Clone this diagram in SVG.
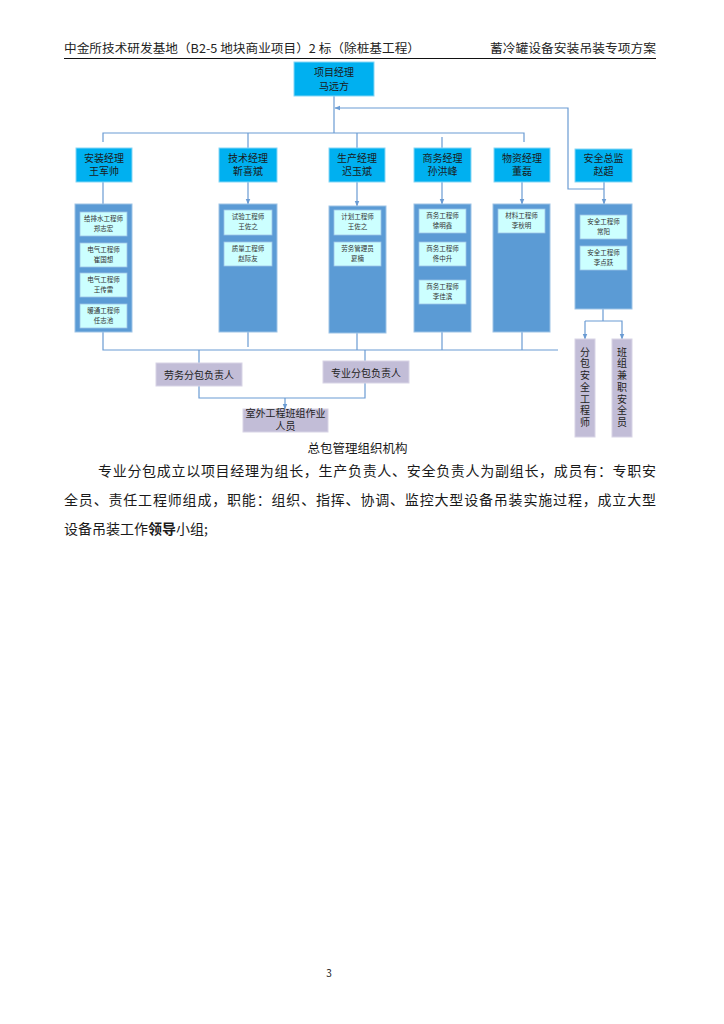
<svg xmlns="http://www.w3.org/2000/svg" width="724" height="1024" viewBox="0 0 724 1024">
<style>
text{font-family:"Noto Sans CJK SC","Noto Sans",sans-serif;fill:#1a1a1a}
.hd{font-size:12px;fill:#222}
.mgr{fill:#00B0F0;stroke:#86D6F5;stroke-width:1}
.mt{font-size:10px;text-anchor:middle}
.ct{fill:#5B9BD5;stroke:#9DC3E6;stroke-width:1}
.in{fill:#CCFFFF;stroke:#9DC3E6;stroke-width:0.8}
.it{font-size:6.5px;text-anchor:middle;fill:#333}
.pu{fill:#C2BDD7;stroke:#D8D4E6;stroke-width:1}
.pt{font-size:10px;text-anchor:middle;fill:#222}
.vt{font-size:10px;fill:#222;writing-mode:vertical-rl;letter-spacing:1.7px}
.ln{fill:none;stroke:#6A9BD3;stroke-width:1.2}
.ar{fill:none;stroke:#6A9BD3;stroke-width:1.2;marker-end:url(#ah)}
.p{font-size:14px}
</style>
<defs>
<marker id="ah" viewBox="0 0 10 10" refX="9" refY="5" markerWidth="6" markerHeight="6" orient="auto" markerUnits="userSpaceOnUse">
<path d="M0,1 L10,5 L0,9 Z" fill="#6A9BD3"/>
</marker>
</defs>
<rect width="724" height="1024" fill="#ffffff"/>

<g id="header">
<text class="hd" x="64" y="53" textLength="356" lengthAdjust="spacingAndGlyphs">中金所技术研发基地（B2-5 地块商业项目）2 标（除桩基工程）</text>
<text class="hd" x="490" y="53" textLength="166" lengthAdjust="spacingAndGlyphs">蓄冷罐设备安装吊装专项方案</text>
<line x1="64" y1="58.5" x2="656" y2="58.5" stroke="#111" stroke-width="1"/>
</g>

<g id="connectors">
<path class="ln" d="M334,96 V133"/>
<path class="ln" d="M103,142 V133 H524 V142"/>
<path class="ln" d="M248,133 V148"/>
<path class="ln" d="M357,133 V148"/>
<path class="ln" d="M442,137 V148"/>
<path class="ar" d="M604,189 H568 V108 H335"/>
<path class="ln" d="M103,182 V204"/>
<path class="ar" d="M248,182 V204"/>
<path class="ar" d="M357,182 V206"/>
<path class="ar" d="M442,182 V204"/>
<path class="ar" d="M522,182 V204"/>
<path class="ar" d="M604,182 V204"/>
<path class="ln" d="M103,332 V350 H558"/>
<path class="ln" d="M248,332 V347"/>
<path class="ln" d="M357,333 V350"/>
<path class="ln" d="M442,332 V350"/>
<path class="ln" d="M522,332 V350"/>
<path class="ln" d="M199,350 V363"/>
<path class="ln" d="M365,350 V361"/>
<path class="ln" d="M199,386 V398 H365 V383"/>
<path class="ar" d="M285,398 V409"/>
<path class="ln" d="M603,309 V321"/>
<path class="ar" d="M585,321 H622 V339"/>
<path class="ar" d="M585,321 V339"/>
</g>

<g id="pm">
<rect class="mgr" x="294" y="62" width="80" height="34"/>
<text class="mt" x="334" y="75.5">项目经理</text>
<text class="mt" x="334" y="89.5">马远方</text>
</g>

<g id="install-mgr">
<rect class="mgr" x="76" y="148" width="56" height="34"/>
<text class="mt" x="104" y="161.8">安装经理</text>
<text class="mt" x="104" y="174.8">王军帅</text>
</g>
<g id="tech-mgr">
<rect class="mgr" x="219" y="148" width="58" height="34"/>
<text class="mt" x="248" y="161.8">技术经理</text>
<text class="mt" x="248" y="174.8">靳喜斌</text>
</g>
<g id="prod-mgr">
<rect class="mgr" x="329" y="148" width="56" height="34"/>
<text class="mt" x="357" y="161.8">生产经理</text>
<text class="mt" x="357" y="174.8">迟玉斌</text>
</g>
<g id="biz-mgr">
<rect class="mgr" x="414" y="148" width="57" height="34"/>
<text class="mt" x="442.5" y="161.8">商务经理</text>
<text class="mt" x="442.5" y="174.8">孙洪峰</text>
</g>
<g id="mat-mgr">
<rect class="mgr" x="494" y="148" width="56" height="34"/>
<text class="mt" x="522" y="161.8">物资经理</text>
<text class="mt" x="522" y="174.8">董磊</text>
</g>
<g id="safety-mgr">
<rect class="mgr" x="575" y="149" width="57" height="33"/>
<text class="mt" x="603.5" y="161.8">安全总监</text>
<text class="mt" x="603.5" y="174.8">赵超</text>
</g>

<g id="install-team">
<rect class="ct" x="75" y="204" width="57" height="128"/>
<rect class="in" x="80" y="212" width="47" height="24"/>
<text class="it" x="103.5" y="221.3">给排水工程师</text>
<text class="it" x="103.5" y="231.3">郑志宏</text>
<rect class="in" x="80" y="243" width="47" height="24"/>
<text class="it" x="103.5" y="252.3">电气工程师</text>
<text class="it" x="103.5" y="262.3">崔国想</text>
<rect class="in" x="80" y="273" width="47" height="24"/>
<text class="it" x="103.5" y="282.3">电气工程师</text>
<text class="it" x="103.5" y="292.3">王传雷</text>
<rect class="in" x="80" y="304" width="47" height="24"/>
<text class="it" x="103.5" y="313.3">暖通工程师</text>
<text class="it" x="103.5" y="323.3">任志池</text>
</g>

<g id="tech-team">
<rect class="ct" x="219" y="204" width="58" height="128"/>
<rect class="in" x="224" y="210" width="48" height="25"/>
<text class="it" x="248" y="219.3">试验工程师</text>
<text class="it" x="248" y="229.3">王佐之</text>
<rect class="in" x="224" y="242" width="48" height="24"/>
<text class="it" x="248" y="251.3">质量工程师</text>
<text class="it" x="248" y="261.3">赵际友</text>
</g>

<g id="prod-team">
<rect class="ct" x="329" y="206" width="57" height="127"/>
<rect class="in" x="334" y="210" width="47" height="25"/>
<text class="it" x="357.5" y="219.3">计划工程师</text>
<text class="it" x="357.5" y="229.3">王佐之</text>
<rect class="in" x="334" y="242" width="47" height="24"/>
<text class="it" x="357.5" y="251.3">劳务管理员</text>
<text class="it" x="357.5" y="261.3">夏楠</text>
</g>

<g id="biz-team">
<rect class="ct" x="414" y="204" width="57" height="128"/>
<rect class="in" x="419" y="209" width="47" height="24"/>
<text class="it" x="442.5" y="218.3">商务工程师</text>
<text class="it" x="442.5" y="228.3">徐明鑫</text>
<rect class="in" x="419" y="242" width="47" height="24"/>
<text class="it" x="442.5" y="251.3">商务工程师</text>
<text class="it" x="442.5" y="261.3">佟中升</text>
<rect class="in" x="419" y="280" width="47" height="24"/>
<text class="it" x="442.5" y="289.3">商务工程师</text>
<text class="it" x="442.5" y="299.3">李佳滨</text>
</g>

<g id="mat-team">
<rect class="ct" x="493" y="204" width="57" height="128"/>
<rect class="in" x="498" y="209" width="47" height="24"/>
<text class="it" x="521.5" y="218.3">材料工程师</text>
<text class="it" x="521.5" y="228.3">李秋明</text>
</g>

<g id="safety-team">
<rect class="ct" x="575" y="204" width="57" height="105"/>
<rect class="in" x="580" y="215" width="47" height="24"/>
<text class="it" x="603.5" y="224.3">安全工程师</text>
<text class="it" x="603.5" y="234.3">常阳</text>
<rect class="in" x="580" y="246" width="47" height="24"/>
<text class="it" x="603.5" y="255.3">安全工程师</text>
<text class="it" x="603.5" y="265.3">李点跃</text>
</g>

<g id="sub-safety-eng">
<rect class="pu" x="575" y="339" width="20" height="98"/>
<text class="vt" x="585" y="347">分包安全工程师</text>
</g>
<g id="team-safety">
<rect class="pu" x="612" y="339" width="20" height="98"/>
<text class="vt" x="622" y="347">班组兼职安全员</text>
</g>

<g id="labor-sub">
<rect class="pu" x="156" y="363" width="86" height="23"/>
<text class="pt" x="199" y="378.5">劳务分包负责人</text>
</g>
<g id="pro-sub">
<rect class="pu" x="323" y="361" width="86" height="22"/>
<text class="pt" x="366" y="376.5">专业分包负责人</text>
</g>
<g id="outdoor">
<rect class="pu" x="243" y="409" width="85" height="23"/>
<text class="pt" x="285.5" y="417" font-size="9.6">室外工程班组作业</text>
<text class="pt" x="285.5" y="430.2" font-size="9.6">人员</text>
</g>

<g id="caption">
<text x="357.5" y="452.5" font-size="12.5" text-anchor="middle">总包管理组织机构</text>
</g>

<g id="body">
<text class="p" x="98" y="476" textLength="558" lengthAdjust="spacing">专业分包成立以项目经理为组长，生产负责人、安全负责人为副组长，成员有：专职安</text>
<text class="p" x="64" y="505" textLength="592" lengthAdjust="spacing">全员、责任工程师组成，职能：组织、指挥、协调、监控大型设备吊装实施过程，成立大型</text>
<text class="p" x="64" y="534">设备吊装工作<tspan font-weight="bold">领导</tspan>小组;</text>
</g>

<g id="page-number">
<text x="329" y="976.5" font-size="10" text-anchor="middle" font-family="Liberation Serif, serif">3</text>
</g>
</svg>
